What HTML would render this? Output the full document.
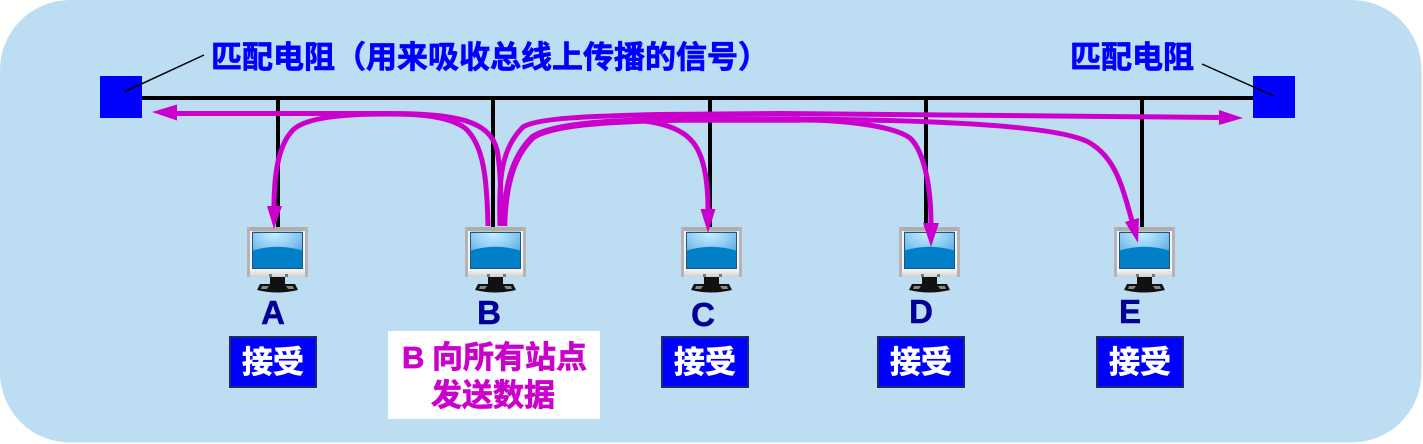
<!DOCTYPE html>
<html lang="zh">
<head>
<meta charset="utf-8">
<style>
html,body{margin:0;padding:0;background:#fff;width:1423px;height:444px;overflow:hidden}
svg{display:block}
text{font-family:"Liberation Sans","Noto Sans CJK SC",sans-serif;font-weight:bold}
</style>
</head>
<body>
<svg width="1423" height="444" viewBox="0 0 1423 444" xmlns="http://www.w3.org/2000/svg">
<defs>
<radialGradient id="sky" cx="0.45" cy="0" r="0.95"><stop offset="0" stop-color="#c8f0ff"/><stop offset="0.5" stop-color="#86c8f2"/><stop offset="1" stop-color="#3f8fcc"/></radialGradient>
<linearGradient id="bez" x1="0" y1="0" x2="0" y2="1"><stop offset="0" stop-color="#c4c4c6"/><stop offset="0.85" stop-color="#f6f6f6"/><stop offset="1" stop-color="#d0d0d0"/></linearGradient>
<g id="mon">
<rect x="0" y="0" width="61" height="50" fill="url(#bez)"/>
<rect x="0" y="0" width="61" height="4" fill="#aeaeb0"/>
<rect x="0" y="0" width="3" height="50" fill="#b4b4b6"/>
<rect x="58" y="0" width="3" height="50" fill="#b4b4b6"/>
<rect x="3" y="4" width="2.500" height="38" fill="#f4f4f4"/>
<rect x="55.500" y="4" width="2.500" height="38" fill="#f4f4f4"/>
<rect x="5" y="5" width="51" height="37" fill="#24527a"/>
<rect x="6" y="6" width="49" height="35" fill="url(#sky)"/>
<path d="M6 23.500 Q30 16 55 23.500 V41 H6Z" fill="#0080c8"/>
<rect x="22" y="47" width="3" height="3" fill="#777"/>
<rect x="38" y="47" width="3" height="3" fill="#777"/>
<rect x="23" y="50" width="15" height="7" fill="#111"/>
<path d="M13 57 H48 L51 63 Q30 68 10 63Z" fill="#111"/>
<path d="M15 59 H22 L20 62 H14Z M39 59 H46 L47 62 H41Z" fill="#888"/>
</g>
</defs>

<rect x="0" y="0" width="1421.500" height="442.500" rx="70" ry="70" fill="#bdddf3"/>

<path d="M142 98H1253" stroke="#000" stroke-width="4" fill="none"/>
<path d="M278 98V227M493 98V227M710 98V227M926 98V227M1142 98V227" stroke="#000" stroke-width="4" fill="none"/>

<rect x="100" y="76" width="42" height="42" fill="#0000ff"/>
<rect x="1253" y="76" width="42" height="42" fill="#0000ff"/>
<path d="M124 92L204 55M1202 64L1274 96" stroke="#000" stroke-width="1.500" fill="none"/>

<use href="#mon" x="247" y="227"/>
<use href="#mon" x="465" y="227"/>
<use href="#mon" x="681" y="227"/>
<use href="#mon" x="899" y="227"/>
<use href="#mon" x="1114" y="227"/>

<g fill="none" stroke="#cc00cc" stroke-width="5">
<path d="M177 113.500H385C460 113 490 122 497 150C501 170 501 200 501 226"/>
<path d="M488 226C487 180 484 145 465 128C445 114 410 114 385 114C340 114 305 118 293 130C278 145 274 175 274 208"/>
<path d="M500 226C499 180 500 150 523 127C537 118 590 116 660 114.500L780 113.500L1219 117.500"/>
<path stroke-width="6.500" d="M504 226C505 190 511 158 533 137C552 125 600 121 680 119.500H800"/>
<path d="M640 120.500C665 123 685 130 695 145C705 160 708 185 708 210"/>
<path d="M640 120H800C850 120 895 127 910 138C925 152 931 190 931 224"/>
<path d="M780 119C930 119.500 1060 125 1090 143C1115 158 1122 185 1132 221"/>
</g>
<g fill="#cc00cc">
<path d="M152 112L177 104.500V120.500Z"/>
<path d="M274 229L267 206H282Z"/>
<path d="M708 233L700.500 209H715.500Z"/>
<path d="M931 247L923 223H939Z"/>
<path d="M1138 243L1125 222L1139 218Z"/>
<path d="M1243 118L1219 110V125Z"/>
</g>

<text x="211" y="68" font-size="31" fill="#0000ff" stroke="#0000ff" stroke-width=".7">匹配电阻（用来吸收总线上传播的信号）</text>
<text x="1070" y="68" font-size="31" fill="#0000ff" stroke="#0000ff" stroke-width=".7">匹配电阻</text>

<g font-size="33" fill="#000099" stroke="#000099" stroke-width=".5" text-anchor="middle">
<text x="273" y="324">A</text>
<text x="489" y="324">B</text>
<text x="703" y="326">C</text>
<text x="921" y="323">D</text>
<text x="1130" y="323">E</text>
</g>

<rect x="388" y="331" width="212" height="88" fill="#fff"/>
<g fill="#cc00cc" stroke="#cc00cc" stroke-width=".7">
<text x="402" y="368" font-size="31">B</text>
<text x="432" y="368" font-size="31">向所有站点</text>
<text x="431" y="406" font-size="31">发送数据</text>
</g>

<g fill="#0000ff" stroke="#1f2a66" stroke-width="2">
<rect x="230" y="337" width="86" height="50"/>
<rect x="662" y="337" width="86" height="50"/>
<rect x="878" y="337" width="86" height="50"/>
<rect x="1097" y="337" width="86" height="50"/>
</g>
<g font-size="31" fill="#fff" stroke="#fff" stroke-width=".7" text-anchor="middle">
<text x="273" y="373">接受</text>
<text x="705" y="373">接受</text>
<text x="921" y="373">接受</text>
<text x="1140" y="373">接受</text>
</g>
</svg>
</body>
</html>
